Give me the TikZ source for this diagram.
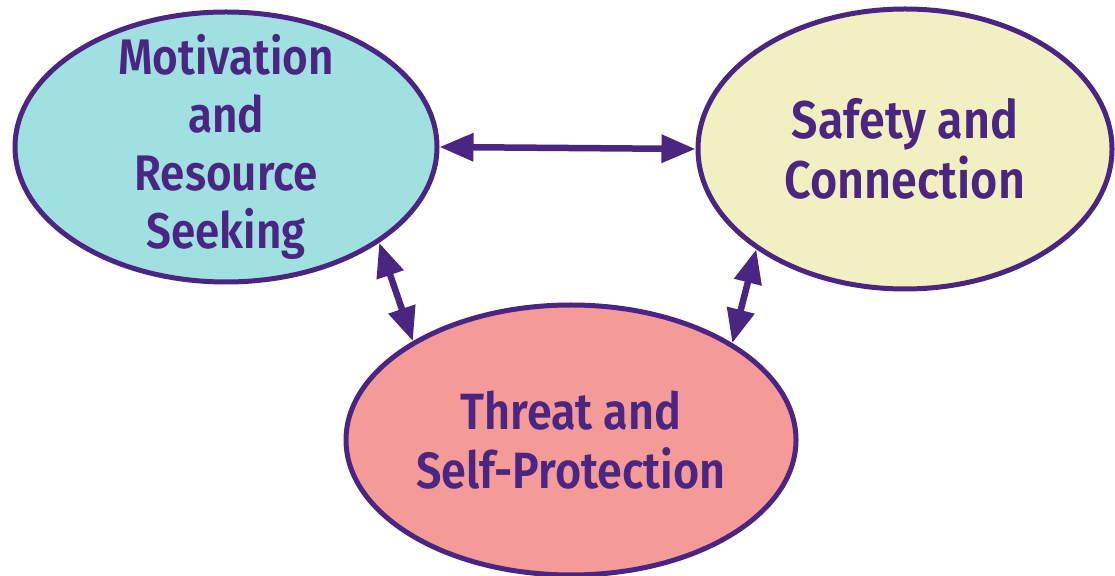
\documentclass[tikz,border=0pt]{standalone}
\usepackage{fontspec}
\setmainfont{Fira Sans}[BoldFont={Fira Sans SemiBold},BoldFeatures={FakeStretch=0.88}]
\usepackage{tikz}
\usetikzlibrary{shapes}
\usetikzlibrary{arrows.meta}
\usetikzlibrary{positioning}
\definecolor{plum}{HTML}{4A2682}
\definecolor{aqua}{HTML}{A0E0E1}
\definecolor{cream}{HTML}{F2F0C1}
\definecolor{salmon}{HTML}{F49B97}
\begin{document}
\begin{tikzpicture}[x=1pt,y=1pt]
				\tikzset{blob/.style = {shape=ellipse,draw=plum,line width=5pt,
						inner sep = 0pt}}
				\tikzset{word/.style = {align=center,text=plum,inner sep=0pt,
						font=\bfseries\fontsize{50}{58}\selectfont}}
				\tikzset{edgebi/.style = {{Triangle[length=34pt,width=27pt]}-{Triangle[length=34pt,width=27pt]},
						draw=plum, line width=6.5pt}}
				\useasboundingbox (0,0) rectangle (1115,575);
				
				% vertices
				\node[blob, fill=aqua, minimum width=422pt, minimum height=270pt] (motive) at (226,428) {};
				\node[blob, fill=cream, minimum width=414pt, minimum height=280pt] (safe) at (905,426) {};
				\node[blob, fill=salmon, minimum width=450pt, minimum height=270pt] (threat) at (571,135) {};
				
				\node[word] (motivetext) at (motive) {Motivation\\and\\Resource\\Seeking};
				\node[word, font=\bfseries\fontsize{53}{60}\selectfont] (safetext) at (safe) {Safety and\\Connection};
				\node[word, font=\bfseries\fontsize{51}{59}\selectfont] (threattext) at (threat) {Threat and\\Self-Protection};
				
				%edges
				
				\draw[edgebi] (motive.east) to (safe.west);
				\draw[edgebi] (motive.-32) to (threat.148);
				\draw[edgebi] (safe.-146) to (threat.31);
				
\end{tikzpicture}
\end{document}
